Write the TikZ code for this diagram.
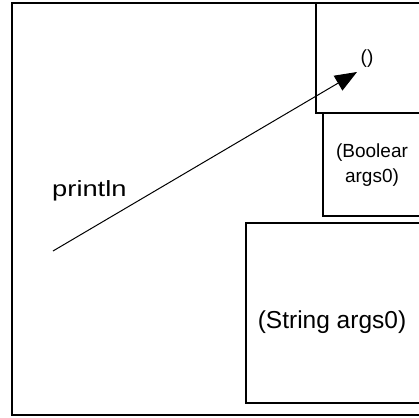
\documentclass[tikz,border=0pt]{standalone}
\usepackage{fontspec}
\setmainfont{Liberation Sans}
\usetikzlibrary{arrows.meta}

\begin{document}
\begin{tikzpicture}[x=1pt, y=-1pt,
  box/.style={draw, line width=1.3pt},
  lbl/.style={inner sep=0pt, align=center}]
\useasboundingbox (0,0) rectangle (419,417);
\clip (0,0) rectangle (419,417);

% frames
\draw[box] (12,3) rectangle (440,415);
\draw[box, fill=white] (316,3) rectangle (440,113);
\draw[box] (323,113) rectangle (440,216);
\draw[box] (246,223) rectangle (440,403);

% texts
\node[lbl, font=\fontsize{22}{22}\selectfont, xscale=1.24, transform shape, anchor=base west] (call) at (52,196) {println};
\node[lbl, font=\fontsize{19}{19}\selectfont] (empty) at (367,59) {()};
\node[lbl, font=\fontsize{19}{25}\selectfont] (bool) at (372,165) {(Boolear\\args0)};
\node[lbl, font=\fontsize{24.5}{24.5}\selectfont] (str) at (332,322) {(String args0)};

% arrow
\coordinate (tail) at (53,251);
\coordinate (head) at (357,72);
\draw[line width=1pt, -{Triangle[length=22pt, width=17pt]}] (tail) -- (head);
\end{tikzpicture}
\end{document}
